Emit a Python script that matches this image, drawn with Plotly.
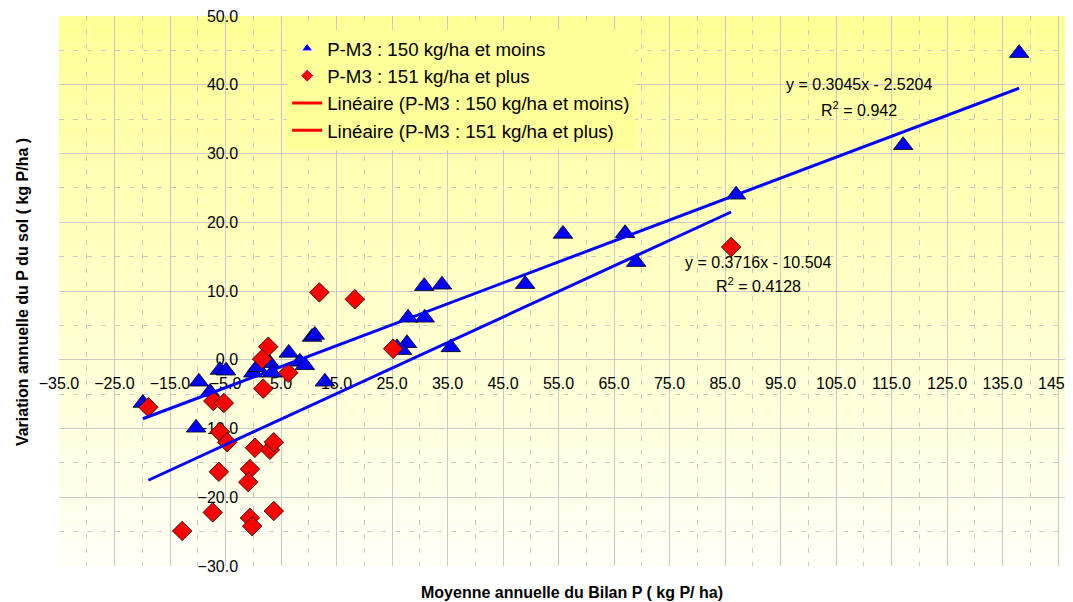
import plotly.graph_objects as go
import numpy as np

# ---- data ----
name1 = "P-M3 : 150 kg/ha et moins"
name2 = "P-M3 : 151 kg/ha et plus"

x1 = [138.0, 117.1, 87.0, 67.0, 55.8, 69.0, 49.0, 34.0, 30.8, 30.9, 27.9, 35.6, 27.7, 25.9, 26.8,
      10.6, 11.1, 6.4, 8.4, 9.3, 12.9, 3.0, 3.4, 0.0, 0.7, -6.0, -4.9, -7.8, -9.8, -10.3, -19.9]
y1 = [44.6, 31.2, 24.0, 18.4, 18.3, 14.2, 11.0, 10.9, 10.7, 6.1, 6.1, 1.8, 2.4, 1.8, 1.4,
      3.3, 3.6, 1.0, -0.3, -0.8, -3.2, -0.5, -1.9, -1.9, -1.1, -1.5, -1.6, -4.7, -3.2, -9.9, -6.3]

x2 = [86.1, 18.3, 11.9, 25.2, 6.3, 2.7, 1.6, 1.8, -18.9, -7.2, -5.3, -6.0, -4.7, 0.3, 3.0, 3.7,
      -6.2, -0.6, -0.9, -7.3, -0.6, -0.2, 3.7, -12.8]
y2 = [16.4, 8.8, 9.8, 1.6, -1.9, 1.9, 0.1, -4.2, -6.9, -6.0, -6.3, -10.5, -12.0, -12.8, -13.1, -12.0,
      -16.3, -15.9, -17.8, -22.2, -23.0, -24.2, -22.0, -24.9]

slopes = [0.3045, 0.3716]
intercepts = [-2.5204, -10.504]
r2_values = [0.942, 0.4128]
trend_names = ["Linéaire (P-M3 : 150 kg/ha et moins)", "Linéaire (P-M3 : 151 kg/ha et plus)"]

x_title = "Moyenne annuelle du Bilan P ( kg P/ ha)"
y_title = "Variation annuelle du P du sol ( kg P/ha )"

FONT = "Liberation Sans, Arial, sans-serif"
BLUE = "#0000FF"
RED = "#FF0000"

fig = go.Figure()

# data series (legend shown through small-marker entries below)
fig.add_trace(go.Scatter(
    x=x1, y=y1, mode="markers", name=name1, showlegend=False,
    marker=dict(symbol="triangle-up", size=17, color=BLUE, line=dict(color="black", width=0.8)),
))
fig.add_trace(go.Scatter(
    x=x2, y=y2, mode="markers", name=name2, showlegend=False,
    marker=dict(symbol="diamond", size=15, color=RED, line=dict(color="black", width=0.8)),
))

# trendlines (drawn in blue, over the x range of each series)
for xs, m, b in [(x1, slopes[0], intercepts[0]), (x2, slopes[1], intercepts[1])]:
    xx = np.array([min(xs), max(xs)])
    fig.add_trace(go.Scatter(x=xx, y=m * xx + b, mode="lines", showlegend=False,
                             line=dict(color=BLUE, width=3), hoverinfo="skip"))

# legend entries
fig.add_trace(go.Scatter(x=[None], y=[None], mode="markers", name=name1,
                         marker=dict(symbol="triangle-up", size=10, color=BLUE,
                                     line=dict(color="white", width=1))))
fig.add_trace(go.Scatter(x=[None], y=[None], mode="markers", name=name2,
                         marker=dict(symbol="diamond", size=10, color=RED,
                                     line=dict(color="white", width=1))))
for nm in trend_names:
    fig.add_trace(go.Scatter(x=[None], y=[None], mode="lines", name=nm,
                             line=dict(color=RED, width=3)))

# gradient plot background
N = 60
shapes = []
for i in range(N):
    f = (i + 0.5) / N
    bch = int(round(248 - (248 - 150) * f))
    shapes.append(dict(type="rect", xref="x domain", yref="y domain",
                       x0=0, x1=1, y0=i / N, y1=(i + 1) / N,
                       fillcolor=f"rgb(255,255,{bch})", line=dict(width=0), layer="below"))

xmin, xmax = -35, 147.7
ymin, ymax = -30, 50

annotations = []
eq_pos = [(109.1, 40.0, 36.5), (91.0, 14.2, 10.9)]
for (ax, ay1, ay2), m, b, r2 in zip(eq_pos, slopes, intercepts, r2_values):
    sign = "-" if b < 0 else "+"
    annotations.append(dict(x=ax, y=ay1, xref="x", yref="y", showarrow=False,
                            text=f"y = {m}x {sign} {abs(b)}",
                            font=dict(family=FONT, size=16, color="black")))
    annotations.append(dict(x=ax, y=ay2, xref="x", yref="y", showarrow=False,
                            text=f"R<sup>2</sup> = {r2}",
                            font=dict(family=FONT, size=16, color="black")))

annotations.append(dict(x=0.506, y=-0.049, xref="paper", yref="paper", showarrow=False,
                        text=x_title, xanchor="center", yanchor="middle",
                        font=dict(family=FONT, size=16, color="black", weight="bold")))
annotations.append(dict(x=-0.0365, y=0.498, xref="paper", yref="paper", showarrow=False,
                        text=y_title, textangle=-90, xanchor="center", yanchor="middle",
                        font=dict(family=FONT, size=16, color="black", weight="bold")))

grid = "#C8C8C8"
# the page body has an 8px default margin: the figure is sized to fit the window
fig.update_layout(
    width=1065, height=594,
    margin=dict(l=51, r=0, t=8, b=36, autoexpand=False),
    paper_bgcolor="white",
    plot_bgcolor="#FFFFD0",
    shapes=shapes,
    annotations=annotations,
    showlegend=True,
    legend=dict(x=0.225, y=0.975, xanchor="left", yanchor="top",
                bgcolor="#FFFF99", borderwidth=0,
                font=dict(family=FONT, size=18.7, color="black")),
    xaxis=dict(range=[xmin, xmax], tick0=-35, dtick=10, tickformat=".1f", automargin=False,
               showgrid=True, gridcolor=grid, gridwidth=1, zeroline=False, showline=False,
               anchor="free", position=(0 - ymin) / (ymax - ymin),
               ticks="outside", ticklen=9, tickcolor="rgba(0,0,0,0)",
               ticklabeloverflow="allow",
               tickfont=dict(family=FONT, size=16, color="black"),
               minor=dict(tick0=-35, dtick=5, showgrid=True, gridcolor=grid, griddash="5px,9px"),
               layer="below traces"),
    yaxis=dict(range=[ymin, ymax], tick0=0, dtick=10, tickformat=".1f", automargin=False,
               showgrid=True, gridcolor=grid, gridwidth=1, zeroline=False, showline=False,
               anchor="free", position=(0 - xmin) / (xmax - xmin),
               ticks="outside", ticklen=12, tickcolor="rgba(0,0,0,0)",
               ticklabeloverflow="allow",
               tickfont=dict(family=FONT, size=16, color="black"),
               minor=dict(tick0=0, dtick=5, showgrid=True, gridcolor=grid, griddash="5px,9px"),
               layer="below traces"),
)

fig.write_html("out.html")
